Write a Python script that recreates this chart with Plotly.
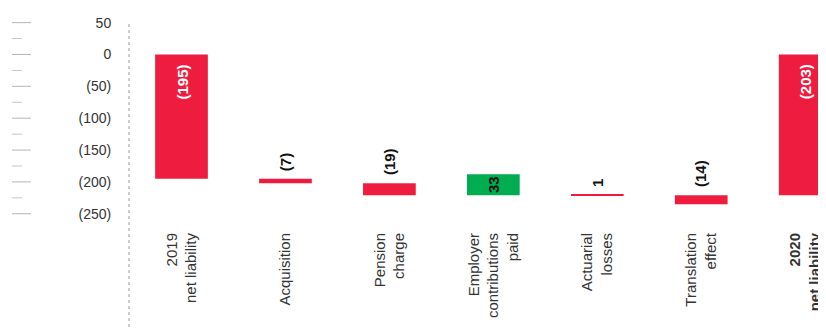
import plotly.graph_objects as go

# ---- data ----
categories = ["2019<br>net liability", "Acquisition", "Pension<br>charge",
              "Employer<br>contributions<br>paid", "Actuarial<br>losses",
              "Translation<br>effect", "<b>2020<br>net liability</b>"]
shown_values = [-195, -7, -19, 33, 1, -14, -203]
bar_start = [0, -195, -202, -221, -221, -221, 0]
bar_end = [-195, -202, -221, -188, -220, -235, -221]
bar_kind = ["total", "down", "down", "up", "up", "down", "total"]
tick_values = [50, 0, -50, -100, -150, -200, -250]
minor_values = [25, -25, -75, -125, -175, -225]

RED = "#EE1C3E"
GREEN = "#00AD50"


def fmt(v):
    return f"({abs(v)})" if v < 0 else f"{v}"


colors = [GREEN if k == "up" and (e - s) > 5 else RED for k, s, e in zip(bar_kind, bar_start, bar_end)]

fig = go.Figure()
fig.add_trace(go.Bar(
    x=categories,
    y=[e - s for s, e in zip(bar_start, bar_end)],
    base=bar_start,
    marker=dict(color=colors, line=dict(width=0)),
    width=0.507,
    hoverinfo="skip",
))

annotations = []
for i, (c, v, s, e, k) in enumerate(zip(categories, shown_values, bar_start, bar_end, bar_kind)):
    top = max(s, e)
    if k == "total":
        annotations.append(dict(x=c, y=top, text=f"<b>{fmt(v)}</b>", textangle=-90,
                                showarrow=False, yanchor="top", yshift=-8,
                                font=dict(color="white", size=15)))
    elif k == "up" and (e - s) > 5:
        annotations.append(dict(x=c, y=(s + e) / 2, text=f"<b>{fmt(v)}</b>", textangle=-90,
                                showarrow=False, yanchor="middle",
                                font=dict(color="#111111", size=15)))
    else:
        annotations.append(dict(x=c, y=top, text=f"<b>{fmt(v)}</b>", textangle=-90,
                                showarrow=False, yanchor="bottom", yshift=6,
                                font=dict(color="#111111", size=15)))

shapes = []
# dotted axis line
shapes.append(dict(type="line", xref="paper", yref="paper", x0=0, x1=0, y0=0.9845, y1=-0.59,
                   line=dict(color="#9a9a9a", width=1, dash="dot")))
# decorative left dashes
for t in tick_values:
    shapes.append(dict(type="line", xref="paper", yref="y", x0=-0.1679, x1=-0.1406, y0=t, y1=t,
                       line=dict(color="#b5b5b5", width=1)))
for t in minor_values:
    shapes.append(dict(type="line", xref="paper", yref="y", x0=-0.1679, x1=-0.1535, y0=t, y1=t,
                       line=dict(color="#c5c5c5", width=1)))

fig.update_layout(
    width=818, height=321,
    margin=dict(l=121, r=0, t=13, b=114),
    plot_bgcolor="white", paper_bgcolor="white",
    showlegend=False,
    font=dict(family="Liberation Sans, Arial, sans-serif", color="#333333"),
    annotations=annotations,
    shapes=shapes,
    xaxis=dict(range=[-0.505, 6.2], showgrid=False, zeroline=False, showline=False,
               tickangle=-90, ticks="outside", ticklen=11, tickcolor="rgba(0,0,0,0)",
               tickfont=dict(size=15, color="#333333"), fixedrange=True),
    yaxis=dict(range=[-251.96, 52.59], showgrid=False, zeroline=False, showline=False,
               tickvals=tick_values, ticktext=[fmt(t) for t in tick_values],
               ticks="outside", ticklen=14, tickcolor="rgba(0,0,0,0)",
               tickfont=dict(size=14, color="#333333"), fixedrange=True),
)

fig.write_html("out.html")
